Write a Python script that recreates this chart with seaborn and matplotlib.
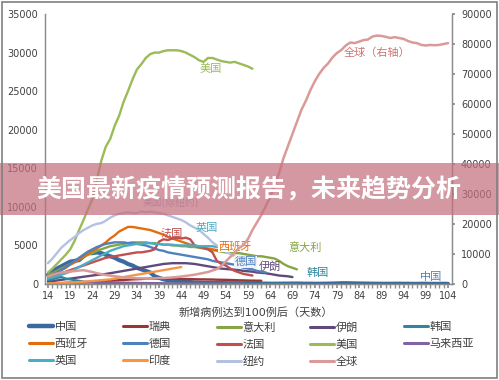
import matplotlib

matplotlib.use("Agg")
import matplotlib.pyplot as plt
import seaborn as sns
from matplotlib.lines import Line2D
from matplotlib.patches import Rectangle

# daily new cases, day 14 onwards (days after reaching 100 cases)
START_DAY = 14
china = [1200, 1600, 2000, 2300, 2600, 2900, 3000, 3100, 3600, 4000,
         4000, 4100, 4000, 3800, 3600, 3400, 3100, 2900, 2600, 2400,
         2100, 1900, 1700, 1500, 1000, 800, 600, 500, 450, 400,
         350, 300, 250, 200,
         180, 160, 150, 140, 130, 120, 110, 100, 100, 90,
         80, 80, 70, 60, 50, 50, 40, 40, 40, 50,
         50, 60, 60, 50, 40, 40, 30, 30, 40, 50,
         60, 80, 100, 100, 90, 80, 70, 60, 50, 40,
         40, 30, 30, 30, 40, 40, 30, 30, 20, 20,
         30, 30, 20, 20, 20, 30, 20]
sweden = [50, 60, 80, 100, 120, 150, 180, 200, 230, 260,
          300, 330, 360, 400, 430, 460, 500, 530, 560, 600,
          620, 650, 680, 700, 700, 680, 700, 720, 700, 680,
          650, 640, 630, 620, 600, 600, 590, 580, 560, 550,
          540, 520, 500, 480, 470, 450, 440, 430, 420]
italy = [1200, 1400, 1700, 2000, 2300, 2600, 2900, 3200, 3500, 3800,
         4000, 4300, 4500, 4700, 4900, 5000, 5100, 5200, 5300, 5400,
         5400, 5400, 5400, 5300, 5300, 5200, 5100, 5100, 5000, 5000,
         4900, 4900, 4800, 4800, 4700, 4600, 4500, 4400, 4300, 4200,
         4100, 4100, 4000, 4000, 3900, 3800, 3700, 3600, 3600, 3500,
         3400, 3300, 3000, 2600, 2300, 2100, 1900]
iran = [300, 380, 460, 540, 620, 700, 780, 860, 940, 1020,
        1100, 1180, 1250, 1300, 1400, 1500, 1600, 1700, 1800, 1900,
        2000, 2100, 2200, 2300, 2400, 2500, 2600, 2650, 2700, 2700,
        2700, 2700, 2650, 2600, 2500, 2400, 2300, 2200, 2100, 2000,
        1950, 1900, 1850, 1800, 1700, 1650, 1600, 1500, 1450, 1400,
        1300, 1200, 1100, 1050, 1000, 900]
korea = [500, 600, 800, 900, 700, 600, 500, 400, 300, 250,
         200, 150, 120, 100, 100, 90, 100, 110, 100, 90,
         80, 80, 90, 100, 90, 80, 70, 60, 50, 50,
         40, 40, 30, 30, 30, 20, 20, 20, 10, 10,
         10, 10, 10, 10, 20, 10, 10, 10, 10, 10,
         10, 20, 10, 10, 10, 10, 10]
spain = [1000, 1200, 1500, 1800, 2100, 2500, 2800, 3200, 3500, 3900,
         4300, 4600, 5000, 5400, 5900, 6300, 6800, 7100, 7400, 7400,
         7300, 7200, 7100, 7000, 6800, 6600, 6400, 6100, 5900, 5700,
         5500, 5300, 5100, 5000, 4800, 4700, 4600, 4500, 4400, 4300]
germany = [1000, 1200, 1500, 1800, 2200, 2600, 3000, 3400, 3800, 4200,
           4500, 4800, 5000, 5200, 5300, 5400, 5400, 5400, 5300, 5300,
           5200, 5100, 5000, 4800, 4600, 4400, 4300, 4100, 4000, 3900,
           3800, 3700, 3600, 3500, 3400, 3300, 3200, 3000, 2900, 2800,
           2700, 2600, 2500, 2300, 2100, 2000, 1900, 1700, 1600, 1500]
france = [800, 1000, 1200, 1400, 1600, 1800, 2000, 2200, 2400, 2600,
          2800, 3000, 3200, 3400, 3500, 3600, 3700, 3800, 3900, 4000,
          4100, 4100, 4200, 4300, 4500, 5500, 5800, 5700, 5900, 6000,
          5900, 6000, 5800, 5000, 4800, 4700, 4500, 4100, 3000, 2600,
          2400, 2000, 1700, 1500, 1300, 1200, 1100]
usa = [1500, 2000, 2600, 3200, 3800, 4500, 5600, 7000, 8300, 9700,
       11000, 13500, 16000, 17800, 18800, 20500, 21800, 23600, 25000, 26500,
       27800, 28500, 29300, 29800, 30000, 30000, 30200, 30300, 30300, 30300,
       30200, 30000, 29700, 29400, 29000, 28800, 29300, 29300, 29100, 28900,
       28800, 28700, 28800, 28600, 28400, 28200, 27900]
malaysia = [100, 110, 120, 130, 150, 160, 180, 190, 200, 210,
            220, 230, 220, 210, 200, 190, 180, 170, 160, 150,
            140, 130, 120, 110, 100, 90, 80, 80, 70, 60,
            60, 50, 50, 40, 40, 40, 30, 30, 30, 30,
            20, 20, 20, 20, 20]
uk = [700, 850, 1000, 1200, 1400, 1600, 1900, 2200, 2500, 2800,
      3100, 3400, 3700, 4000, 4300, 4500, 4700, 4900, 5000, 5100,
      5200, 5200, 5300, 5300, 5200, 5200, 5100, 5100, 5100, 5000,
      5000, 5000, 5000, 5000, 4900, 4900, 4900, 4900, 4800, 4800]
india = [80, 90, 100, 120, 150, 180, 200, 250, 300, 350,
         400, 450, 500, 550, 600, 700, 800, 900, 1000, 1100,
         1200, 1300, 1400, 1500, 1600, 1700, 1800, 1900, 2000, 2100,
         2200]
new_york = [2700, 3300, 4000, 4700, 5200, 5700, 6100, 6600, 7000, 7300,
            7600, 7800, 7900, 8200, 8600, 8900, 9100, 9200, 9300, 9200,
            9200, 9400, 9300, 9400, 9300, 9200, 9100, 8900, 8700, 8500,
            8300, 8000, 7600, 7300, 7000, 6500, 6000, 5400, 5000, 4600,
            4200, 3900, 3600]
world = [2500, 3000, 3500, 3800, 4000, 4200, 4300, 4500, 4600, 4300,
         4000, 3600, 3300, 3000, 2800, 2600, 2400, 2200, 2100, 2000,
         1900, 1900, 1800, 1800, 1900, 2000, 2000, 2100, 2200, 2300,
         2500, 2700, 2900, 3100, 3400, 3700, 4000, 4500, 5000, 6000,
         7500, 9000, 10500, 12000, 13000, 15000, 18000, 20500, 23000, 26000,
         29000, 33000, 37000, 42000, 46000, 50000, 54000, 58000, 61000, 64500,
         67500, 70000, 72000, 73500, 75500, 77000, 78000, 79500, 80500, 80300,
         80800, 81300, 81500, 82500, 82800, 82700, 82400, 82000, 82300, 82000,
         81700, 81000, 80500, 80300, 79700, 79500, 79700, 79600, 79700, 80000,
         80300]

LEFT_SERIES = [
    ("中国", china), ("瑞典", sweden), ("意大利", italy), ("伊朗", iran),
    ("韩国", korea), ("西班牙", spain), ("德国", germany), ("法国", france),
    ("美国", usa), ("马来西亚", malaysia), ("英国", uk), ("印度", india),
    ("纽约", new_york),
]
LEGEND_ORDER = ["中国", "瑞典", "意大利", "伊朗", "韩国",
                "西班牙", "德国", "法国", "美国", "马来西亚",
                "英国", "印度", "纽约", "全球"]
X_TICKS = list(range(14, 105, 5))
LEFT_TICKS = list(range(0, 35001, 5000))
RIGHT_TICKS = list(range(0, 90001, 10000))

COLORS = {
    "中国": "#3A6AA0", "瑞典": "#953735", "意大利": "#86A544", "伊朗": "#604A7B",
    "韩国": "#31859C", "西班牙": "#E46C0A", "德国": "#4F81BD", "法国": "#C0504D",
    "美国": "#9BBB59", "马来西亚": "#8064A2", "英国": "#4BACC6", "印度": "#F79646",
    "纽约": "#B3C2E0", "全球": "#DA9A98",
}

sns.set_theme(style="white")
plt.rcParams["font.family"] = ["DejaVu Sans", "Noto Sans CJK SC"]
TXT = "#404040"
GRID = "#8c8c8c"

fig = plt.figure(figsize=(4.99, 3.80), dpi=100)
ax = fig.add_axes([0.0902, 0.2526, 0.8156, 0.7105])
ax2 = ax.twinx()

for name, vals in LEFT_SERIES:
    days = list(range(START_DAY, START_DAY + len(vals)))
    lw = 3.0 if name == "中国" else 1.7
    sns.lineplot(x=days, y=vals, ax=ax, color=COLORS[name], linewidth=lw)

world_days = list(range(START_DAY, START_DAY + len(world)))
sns.lineplot(x=world_days, y=world, ax=ax2, color=COLORS["全球"], linewidth=1.8)

ax.set_xlim(13.33, 104.9)
ax.set_ylim(0, 35000)
ax2.set_ylim(0, 90000)
ax.set_xticks(X_TICKS)
ax.set_xticks(range(14, 105), minor=True)
ax.set_yticks(LEFT_TICKS)
ax2.set_yticks(RIGHT_TICKS)
ax.tick_params(axis="x", which="both", length=3, color=GRID, pad=2, labelsize=7, labelcolor=TXT, bottom=True)
ax.tick_params(axis="y", length=0, pad=5, labelsize=7, labelcolor=TXT)
ax2.tick_params(axis="y", length=2.5, color=GRID, pad=4, labelsize=7, labelcolor=TXT, right=True)
for a in (ax, ax2):
    a.grid(False)
    a.spines["top"].set_visible(False)
    for s in ("left", "right", "bottom"):
        a.spines[s].set_color(GRID)
        a.spines[s].set_linewidth(0.9)
ax.set_ylabel("")
ax2.set_ylabel("")
ax.set_xlabel("新增病例达到100例后（天数）", fontsize=8, color=TXT)
ax.xaxis.set_label_coords(0.518, -0.107)
ax.xaxis.label.set_va("center")

# series labels
lab = dict(fontsize=8, ha="center", va="center")
ax.text(50.6, 27900, "美国", color="#9BBB59", **lab)
ax2.text(88.0, 77000, "全球（右轴）", color="#CF7472", **lab)
ax.text(41.8, 6500, "法国", color="#C0504D", **lab)
ax.text(49.8, 7300, "英国", color="#4BACC6", **lab)
ax.text(56.2, 4900, "西班牙", color="#E46C0A",
        bbox=dict(facecolor="white", edgecolor="none", pad=0.3), **lab)
ax.text(58.4, 2850, "德国", color="#4F81BD",
        bbox=dict(facecolor="#eef3fa", edgecolor="none", pad=0.3), **lab)
ax.text(64.0, 2200, "伊朗", color="#604A7B", **lab)
ax.text(71.9, 4700, "意大利", color="#86A544", **lab)
ax.text(74.6, 1450, "韩国", color="#31859C", **lab)
ax.text(100.2, 900, "中国", color="#4F81BD", **lab)
# this label sits underneath the headline banner, as in the source image
ax.text(41.6, 10400, "美国(除纽约)", color="#A5AFCF", fontsize=7, ha="center", va="center")

# legend, five equal-width columns
handles = {n: Line2D([], [], color=COLORS[n], lw=3.2 if n == "中国" else 2.2) for n in LEGEND_ORDER}
col_x = [29, 123, 217, 310, 404]
for c, x0 in enumerate(col_x):
    names = LEGEND_ORDER[c::5]
    fig.legend([handles[n] for n in names], names, loc="upper left",
               bbox_to_anchor=(x0 / 499, 1 - 322 / 380), frameon=False,
               fontsize=8, handlelength=2.2, handletextpad=0.1,
               labelspacing=0.62, borderpad=0, borderaxespad=0,
               labelcolor=TXT)

# headline banner
fig.patches.append(Rectangle((0, 0.434), 1, 0.137, transform=fig.transFigure,
                             facecolor="#c4707f", alpha=0.72, edgecolor="none", zorder=5))
fig.text(0.498, 0.5, "美国最新疫情预测报告，未来趋势分析", ha="center", va="center",
         fontsize=18, fontweight="bold", color="white", family=["Noto Sans CJK SC"], zorder=6)

# outer frame
fig.patches.append(Rectangle((0.004, 0.006), 0.992, 0.99, transform=fig.transFigure,
                             fill=False, edgecolor="#7f7f7f", linewidth=1.2, zorder=6))

fig.savefig("out.png", dpi=100)
